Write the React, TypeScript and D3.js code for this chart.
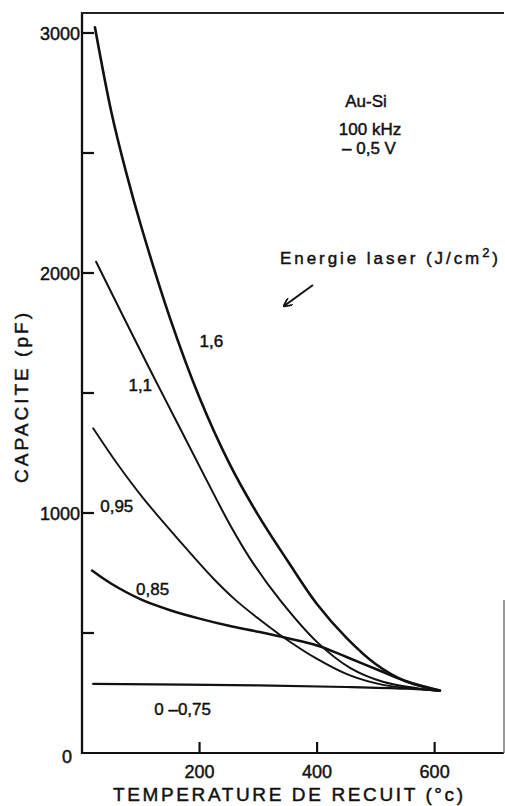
import React from "react";
import * as d3 from "d3";

const W = 505;
const H = 806;

const t16 = [22, 50, 75, 100, 150, 200, 250, 300, 350, 400, 450, 500, 550, 609];
const c16 = [3024, 2670, 2420, 2200, 1810, 1480, 1210, 990, 800, 620, 480, 370, 300, 260];

const t11 = [24, 70, 116, 167, 212, 252, 286, 336, 400, 456, 512, 570, 609];
const c11 = [2047, 1820, 1596, 1352, 1137, 950, 810, 640, 462, 355, 297, 270, 258];

const t095 = [19, 60, 104, 167, 223, 260, 300, 337, 400, 456, 512, 570, 609];
const c095 = [1353, 1205, 1062, 881, 728, 640, 560, 492, 392, 323, 284, 268, 258];

const t085 = [17, 50, 100, 150, 200, 250, 300, 350, 400, 450, 500, 550, 609];
const c085 = [760, 705, 640, 595, 560, 530, 505, 478, 448, 400, 350, 300, 260];

const t075 = [19, 300, 450, 550, 609];
const c075 = [288, 282, 275, 268, 260];

const seriesNames = ["1,6", "1,1", "0,95", "0,85", "0 –0,75"];
const seriesT = [t16, t11, t095, t085, t075];
const seriesC = [c16, c11, c095, c085, c075];
const seriesWidth = [2.6, 2.0, 1.9, 2.5, 2.2];
const labelT = [200, 79, 31, 92, 123];
const labelC = [1690, 1510, 1005, 660, 160];

const yMajor = [0, 1000, 2000, 3000];
const yMinor = [500, 1500, 2500];
const xTicks = [200, 400, 600];

export default function App() {
  const x = d3.scaleLinear().domain([0, 718]).range([82, 504]);
  const y = d3.scaleLinear().domain([0, 3000]).range([753, 33]);
  const line = d3
    .line<[number, number]>()
    .x((d) => x(d[0]))
    .y((d) => y(d[1]))
    .curve(d3.curveCatmullRom.alpha(0.5));

  const font = "'Liberation Sans', Arial, sans-serif";
  const txt = { fontFamily: font, fill: "#111", stroke: "#111", strokeWidth: 0.45 } as const;

  const x0 = x(0);
  const yb = y(0);
  const xr = 504;

  return (
    <svg width={W} height={H} style={{ position: "absolute", left: 0, top: 0, background: "#fff" }}>
      <defs>
        <marker id="arr" viewBox="0 0 10 10" refX="9" refY="5" markerWidth="9" markerHeight="9" orient="auto" markerUnits="userSpaceOnUse">
          <path d="M0,0 L10,5 L0,10" fill="none" stroke="#111" strokeWidth="2" />
        </marker>
      </defs>

      {seriesT.map((ts, i) => (
        <path
          key={"s" + i}
          d={line(ts.map((t, j) => [t, seriesC[i][j]] as [number, number])) || ""}
          fill="none"
          stroke="#111"
          strokeWidth={seriesWidth[i]}
          strokeLinejoin="round"
          strokeLinecap="round"
        />
      ))}

      {/* frame */}
      <line x1={x0} y1={12} x2={x0} y2={yb + 1} stroke="#111" strokeWidth={2.3} />
      <line x1={x0 - 1} y1={yb} x2={xr} y2={yb} stroke="#111" strokeWidth={2.2} />
      <line x1={x0 - 1} y1={13} x2={xr} y2={13} stroke="#222" strokeWidth={1.9} />
      <line x1={xr} y1={600} x2={xr} y2={yb} stroke="#777" strokeWidth={1.5} />

      {[...yMajor.filter((v) => v > 0), ...yMinor].map((v) => (
        <line key={"yt" + v} x1={x0} x2={x0 + 12} y1={y(v)} y2={y(v)} stroke="#111" strokeWidth={2.2} />
      ))}
      {yMajor.map((v) => (
        <text key={"yl" + v} x={v === 0 ? 72 : 80} y={y(v) + (v === 0 ? 5 : 2)} textAnchor="end" dominantBaseline="middle" fontSize={18} {...txt}>
          {v}
        </text>
      ))}

      {xTicks.map((v) => (
        <g key={"xt" + v}>
          <line x1={x(v)} x2={x(v)} y1={yb} y2={yb - 11} stroke="#111" strokeWidth={2.2} />
          <text x={x(v)} y={778} textAnchor="middle" fontSize={18} {...txt}>
            {v}
          </text>
        </g>
      ))}

      <text x={288} y={801} textAnchor="middle" fontSize={19} textLength={350} lengthAdjust="spacing" {...txt}>
        TEMPERATURE DE RECUIT (°c)
      </text>
      <text transform="translate(28,398) rotate(-90)" textAnchor="middle" fontSize={19} textLength={170} lengthAdjust="spacing" {...txt}>
        CAPACITE (pF)
      </text>

      {seriesNames.map((n, i) => (
        <text key={"lb" + i} x={x(labelT[i])} y={y(labelC[i])} fontSize={17} {...txt}>
          {n}
        </text>
      ))}

      <text x={366} y={107} textAnchor="middle" fontSize={17} {...txt}>Au-Si</text>
      <text x={370} y={135} textAnchor="middle" fontSize={17} {...txt}>100 kHz</text>
      <text x={369} y={154} textAnchor="middle" fontSize={17} {...txt}>– 0,5 V</text>
      <text x={280} y={264} fontSize={17} textLength={218} lengthAdjust="spacing" {...txt}>
        Energie laser (J/cm
        <tspan dy={-7} fontSize={13}>2</tspan>
        <tspan dy={7}>)</tspan>
      </text>
      <line x1={313} y1={285} x2={284} y2={306} stroke="#111" strokeWidth={2} markerEnd="url(#arr)" />
    </svg>
  );
}
